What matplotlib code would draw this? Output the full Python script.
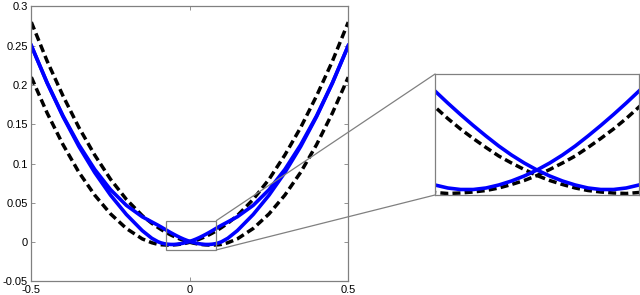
"""
Two pairs of near-parabolic curves with a magnified view of the minimum.
"""

import matplotlib.pyplot as plt
from matplotlib.patches import Rectangle, ConnectionPatch

plt.rcParams['font.family'] = ['Liberation Sans', 'DejaVu Sans']
plt.rcParams['axes.unicode_minus'] = False

# Sample positions (denser around the minimum, where the inset looks)
x = [-0.5, -0.45, -0.4, -0.35, -0.3, -0.25, -0.2, -0.15, -0.12, -0.1,
     -0.09, -0.08, -0.07, -0.06, -0.05, -0.04, -0.03, -0.02, -0.01, 0.0,
     0.01, 0.02, 0.03, 0.04, 0.05, 0.06, 0.07, 0.08, 0.09, 0.1,
     0.12, 0.15, 0.2, 0.25, 0.3, 0.35, 0.4, 0.45, 0.5]

# Blue solid curves
blue_up = [0.2500, 0.2024, 0.1597, 0.1218, 0.0886, 0.0598, 0.0352, 0.0147, 0.0050, 0.0005,
           -0.0010, -0.0020, -0.0026, -0.0029, -0.0029, -0.0026, -0.0020, -0.0012, -0.0002, 0.0010,
           0.0024, 0.0040, 0.0058, 0.0078, 0.0099, 0.0121, 0.0144, 0.0168, 0.0192, 0.0215,
           0.0258, 0.0323, 0.0468, 0.0668, 0.0926, 0.1240, 0.1607, 0.2028, 0.2500]
blue_down = [0.2500, 0.2028, 0.1607, 0.1240, 0.0926, 0.0668, 0.0468, 0.0323, 0.0258, 0.0215,
             0.0192, 0.0168, 0.0144, 0.0121, 0.0099, 0.0078, 0.0058, 0.0040, 0.0024, 0.0010,
             -0.0002, -0.0012, -0.0020, -0.0026, -0.0029, -0.0029, -0.0026, -0.0020, -0.0010, 0.0005,
             0.0050, 0.0147, 0.0352, 0.0598, 0.0886, 0.1218, 0.1597, 0.2024, 0.2500]

# Black dashed curves
dash_up = [0.2099, 0.1643, 0.1241, 0.0890, 0.0599, 0.0360, 0.0174, 0.0042, -0.0007, -0.0028,
           -0.0033, -0.0035, -0.0037, -0.0036, -0.0034, -0.0031, -0.0026, -0.0019, -0.0011, -0.0001,
           0.0011, 0.0024, 0.0038, 0.0055, 0.0073, 0.0092, 0.0113, 0.0136, 0.0160, 0.0186,
           0.0241, 0.0338, 0.0544, 0.0800, 0.1109, 0.1460, 0.1861, 0.2303, 0.2799]
dash_down = [0.2799, 0.2303, 0.1861, 0.1460, 0.1109, 0.0800, 0.0544, 0.0338, 0.0241, 0.0186,
             0.0160, 0.0136, 0.0113, 0.0092, 0.0073, 0.0055, 0.0038, 0.0024, 0.0011, -0.0001,
             -0.0011, -0.0019, -0.0026, -0.0031, -0.0034, -0.0036, -0.0037, -0.0035, -0.0033, -0.0028,
             -0.0007, 0.0042, 0.0174, 0.0360, 0.0599, 0.0890, 0.1241, 0.1643, 0.2099]

xticks = [-0.5, 0, 0.5]
xtick_labels = ['-0.5', '0', '0.5']
yticks = [-0.05, 0, 0.05, 0.1, 0.15, 0.2, 0.25, 0.3]
ytick_labels = ['-0.05', '0', '0.05', '0.1', '0.15', '0.2', '0.25', '0.3']

# Zoom box drawn on the main axes, and the limits of the magnified view
box_x = (-0.076, 0.084)
box_y = (-0.0098, 0.0275)
inset_xlim = (-0.08, 0.08)
inset_ylim = (-0.004, 0.0202)

gray = '#808080'

fig = plt.figure(figsize=(6.4, 2.95), dpi=100)
ax = fig.add_axes([0.0489, 0.0458, 0.4953, 0.9328])
axins = fig.add_axes([0.6797, 0.339, 0.3187, 0.410])

for a in (ax, axins):
    a.plot(x, dash_up, color='k', lw=2.5, linestyle=(0, (2.3, 1.2)))
    a.plot(x, dash_down, color='k', lw=2.5, linestyle=(0, (2.3, 1.2)))
    a.plot(x, blue_up, color='#0000ff', lw=2.6)
    a.plot(x, blue_down, color='#0000ff', lw=2.6)
    for s in a.spines.values():
        s.set_color(gray)
        s.set_linewidth(0.9)

ax.set_xlim(-0.5, 0.5)
ax.set_ylim(-0.05, 0.3)
ax.set_xticks(xticks)
ax.set_xticklabels(xtick_labels)
ax.set_yticks(yticks)
ax.set_yticklabels(ytick_labels)
ax.tick_params(direction='in', length=3, width=0.6, color=gray,
               labelcolor='k', labelsize=8, top=True, right=True)
ax.tick_params(axis='x', pad=2.5)
ax.tick_params(axis='y', pad=2.5)

axins.set_xlim(*inset_xlim)
axins.set_ylim(*inset_ylim)
axins.set_xticks([])
axins.set_yticks([])

# zoom box and connector lines
ax.add_patch(Rectangle((box_x[0], box_y[0]), box_x[1] - box_x[0], box_y[1] - box_y[0],
                       fill=False, ec=gray, lw=0.9, zorder=5))
for ya, yb in ((box_y[1], 1), (box_y[0], 0)):
    con = ConnectionPatch(xyA=(box_x[1], ya), coordsA=ax.transData,
                          xyB=(0, yb), coordsB=axins.transAxes,
                          color=gray, lw=0.9)
    fig.add_artist(con)

fig.savefig('out.png', dpi=100)
